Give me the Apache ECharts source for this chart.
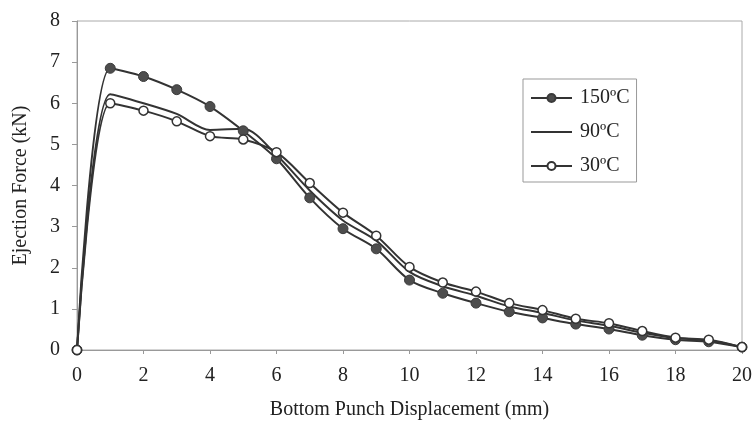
<!DOCTYPE html>
<html>
<head>
<meta charset="utf-8">
<script src="https://cdn.jsdelivr.net/npm/echarts@6/dist/echarts.min.js"></script>
<style>
  html, body { margin: 0; padding: 0; background: #fff; }
  #chart { width: 755px; height: 426px; }
</style>
</head>
<body>
<div id="chart"></div>
<script>
// displacement (mm)
var displacement = [0, 1, 2, 3, 4, 5, 6, 7, 8, 9, 10, 11, 12, 13, 14, 15, 16, 17, 18, 19, 20]
// ejection force (kN)
var force150 = [0, 6.85, 6.65, 6.33, 5.92, 5.33, 4.65, 3.70, 2.95, 2.46, 1.70, 1.38, 1.14, 0.93, 0.78, 0.63, 0.51, 0.36, 0.25, 0.20, 0.07]
var force90 = [0, 6.22, 6.00, 5.74, 5.35, 5.38, 4.74, 3.88, 3.15, 2.66, 1.90, 1.55, 1.32, 1.06, 0.90, 0.72, 0.59, 0.42, 0.29, 0.23, 0.07]
var force30 = [0, 6.00, 5.82, 5.56, 5.20, 5.12, 4.81, 4.06, 3.34, 2.78, 2.02, 1.64, 1.42, 1.14, 0.97, 0.76, 0.65, 0.46, 0.30, 0.25, 0.07]
var seriesNames = ['150ºC', '90ºC', '30ºC']

function pairs(ys) {
  return displacement.map(function (x, i) { return [x, ys[i]] })
}

var font = '"Liberation Serif", "DejaVu Serif", serif'
var chart = echarts.init(document.getElementById('chart'))

chart.setOption({
  animation: false,
  textStyle: { fontFamily: font, color: '#222' },
  grid: {
    left: 77, right: 13, top: 21, bottom: 76,
    show: true, borderColor: '#aaa', borderWidth: 1
  },
  legend: {
    orient: 'vertical',
    left: 523,
    top: 79,
    padding: [9, 7, 6, 7],
    itemGap: 14,
    itemWidth: 41,
    itemHeight: 10,
    borderColor: '#999',
    borderWidth: 1,
    textStyle: { fontFamily: font, fontSize: 20, color: '#222', padding: [0, 0, 0, 3] },
    data: seriesNames
  },
  xAxis: {
    type: 'value',
    min: 0, max: 20, interval: 2,
    name: 'Bottom Punch Displacement (mm)',
    nameLocation: 'middle',
    nameGap: 50,
    nameTextStyle: { fontFamily: font, fontSize: 20, color: '#222' },
    axisLine: { lineStyle: { color: '#999' } },
    axisTick: { length: 4, lineStyle: { color: '#999' } },
    axisLabel: { fontFamily: font, fontSize: 20, color: '#222', margin: 16 },
    splitLine: { show: false }
  },
  yAxis: {
    type: 'value',
    min: 0, max: 8, interval: 1,
    name: 'Ejection Force (kN)',
    nameLocation: 'middle',
    nameGap: 46,
    nameTextStyle: { fontFamily: font, fontSize: 20, color: '#222' },
    axisLine: { show: true, lineStyle: { color: '#999' } },
    axisTick: { show: true, length: 5, lineStyle: { color: '#999' } },
    axisLabel: { fontFamily: font, fontSize: 20, color: '#222', margin: 17 },
    splitLine: { show: false }
  },
  series: [
    {
      name: seriesNames[0],
      type: 'line',
      smooth: 0.3,
      data: pairs(force150),
      symbol: 'circle',
      symbolSize: 10,
      itemStyle: { color: '#4d4d4d', borderColor: '#3a3a3a', borderWidth: 1 },
      lineStyle: { color: '#333', width: 2 },
      z: 3
    },
    {
      name: seriesNames[1],
      type: 'line',
      smooth: 0.3,
      data: pairs(force90),
      symbol: 'none',
      itemStyle: { color: 'rgba(0,0,0,0)', borderColor: 'rgba(0,0,0,0)' },
      lineStyle: { color: '#333', width: 2 },
      z: 2
    },
    {
      name: seriesNames[2],
      type: 'line',
      smooth: 0.3,
      data: pairs(force30),
      symbol: 'circle',
      symbolSize: 9,
      itemStyle: { color: '#fff', borderColor: '#333', borderWidth: 1.5 },
      lineStyle: { color: '#333', width: 2 },
      z: 4
    }
  ]
})
</script>
</body>
</html>
